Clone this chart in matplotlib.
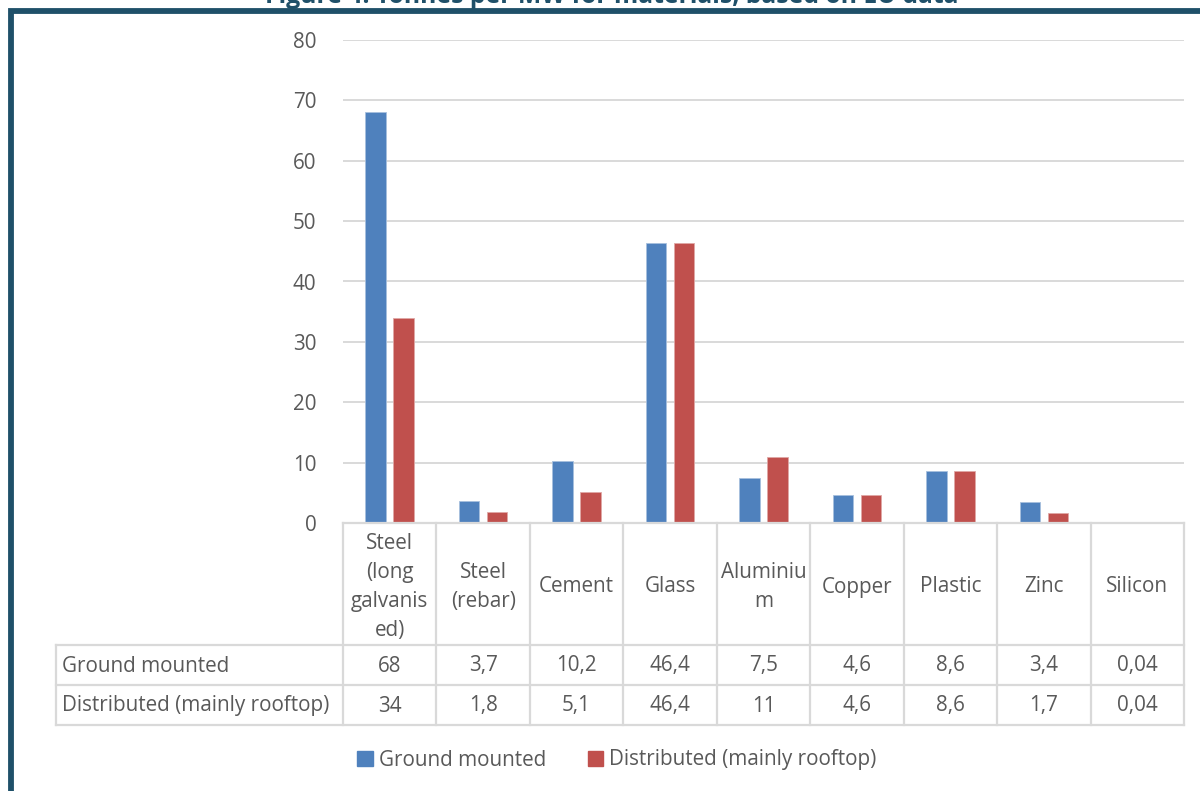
import matplotlib
matplotlib.use("Agg")
import matplotlib.pyplot as plt
import matplotlib.transforms as mtransforms
from matplotlib.lines import Line2D
from matplotlib.patches import Rectangle
import numpy as np

# ---- data -------------------------------------------------------------
categories = ["Steel\n(long\ngalvanis\ned)", "Steel\n(rebar)", "Cement", "Glass",
              "Aluminiu\nm", "Copper", "Plastic", "Zinc", "Silicon"]
ground_mounted = [68, 3.7, 10.2, 46.4, 7.5, 4.6, 8.6, 3.4, 0.04]
distributed = [34, 1.8, 5.1, 46.4, 11, 4.6, 8.6, 1.7, 0.04]
series_names = ["Ground mounted", "Distributed (mainly rooftop)"]
yticks = [0, 10, 20, 30, 40, 50, 60, 70, 80]
title = "Figure 4: Tonnes per MW for materials, based on EU data"

BLUE = "#4F81BD"
RED = "#C0504D"
TEXT = "#595959"
GRID = "#D9D9D9"
FRAME = "#1F5069"
FONT = "Open Sans"
FS = 14.9

W, H = 1200, 791
fig = plt.figure(figsize=(W / 100, H / 100), dpi=100)
plt.rcParams["font.family"] = [FONT, "DejaVu Sans"]


def fx(px):
    return px / W


def fy(py):
    return 1 - py / H


# plot area
left, right, top, bottom = 343, 1184, 40, 523
ax = fig.add_axes([fx(left), fy(bottom), fx(right - left), fy(top) - fy(bottom)])

n = len(categories)
x = np.arange(n)
bw = 0.22
off = 0.15
ax.bar(x - off, ground_mounted, bw, color=BLUE, edgecolor="#A7C0DE", linewidth=0.6, zorder=3)
ax.bar(x + off, distributed, bw, color=RED, edgecolor="#E0A8A6", linewidth=0.6, zorder=3)

ax.set_xlim(-0.5, n - 0.5)
ax.set_ylim(0, 80)
ax.set_yticks(yticks)
ax.set_yticklabels([str(v) for v in yticks], fontsize=FS, color=TEXT)
ax.tick_params(axis="y", length=0, pad=19)
ax.set_xticks([])
ax.grid(axis="y", color=GRID, linewidth=1.4, zorder=0)
for s in ax.spines.values():
    s.set_visible(False)

# ---- data table under the axis ----------------------------------------
blend = mtransforms.blended_transform_factory(ax.transData, fig.transFigure)
tab_left = 56
row_lines = [523, 645, 685, 725]
lw = 1.6


def hline(x0, x1, y):
    fig.add_artist(Line2D([fx(x0), fx(x1)], [fy(y), fy(y)], color=GRID, lw=lw))


def vline_data(xd, y0, y1):
    fig.add_artist(Line2D([xd, xd], [fy(y0), fy(y1)], color=GRID, lw=lw, transform=blend))


# horizontal rules
hline(left, right, row_lines[0])
for yy in row_lines[1:]:
    hline(tab_left, right, yy)
# vertical rules
for i in range(n + 1):
    vline_data(i - 0.5, row_lines[0], row_lines[-1])
fig.add_artist(Line2D([fx(tab_left)] * 2, [fy(row_lines[1]), fy(row_lines[-1])], color=GRID, lw=lw))

# header labels
for i, c in enumerate(categories):
    fig.text(i, fy(587), c, transform=blend, ha="center", va="center",
             fontsize=FS, color=TEXT, linespacing=1.52)

# values
for row_idx, (name, vals) in enumerate(zip(series_names, [ground_mounted, distributed])):
    yc = fy((row_lines[row_idx + 1] + row_lines[row_idx + 2]) / 2 + 1)
    fig.text(fx(62), yc, name, ha="left", va="center", fontsize=FS, color=TEXT)
    for i, v in enumerate(vals):
        fig.text(i, yc, f"{v:g}".replace(".", ","), transform=blend,
                 ha="center", va="center", fontsize=FS, color=TEXT)

# ---- legend ------------------------------------------------------------
handles = [Rectangle((0, 0), 1, 1, color=BLUE), Rectangle((0, 0), 1, 1, color=RED)]
fig.legend(handles, series_names, loc="center", bbox_to_anchor=(fx(617), fy(760)),
           ncol=2, frameon=False, fontsize=FS, labelcolor=TEXT,
           handlelength=0.75, handleheight=0.75, handletextpad=0.3, columnspacing=2.0)

# ---- frame and clipped title -------------------------------------------
fig.add_artist(Rectangle((fx(11), fy(H + 20)), fx(W + 20), fy(10.5) - fy(H + 20),
                         fill=False, edgecolor=FRAME, lw=4.2))
fig.text(fx(612), fy(3), title, ha="center", va="baseline", fontsize=17.8,
         fontweight="bold", color=FRAME)

fig.savefig("out.png", dpi=100)
